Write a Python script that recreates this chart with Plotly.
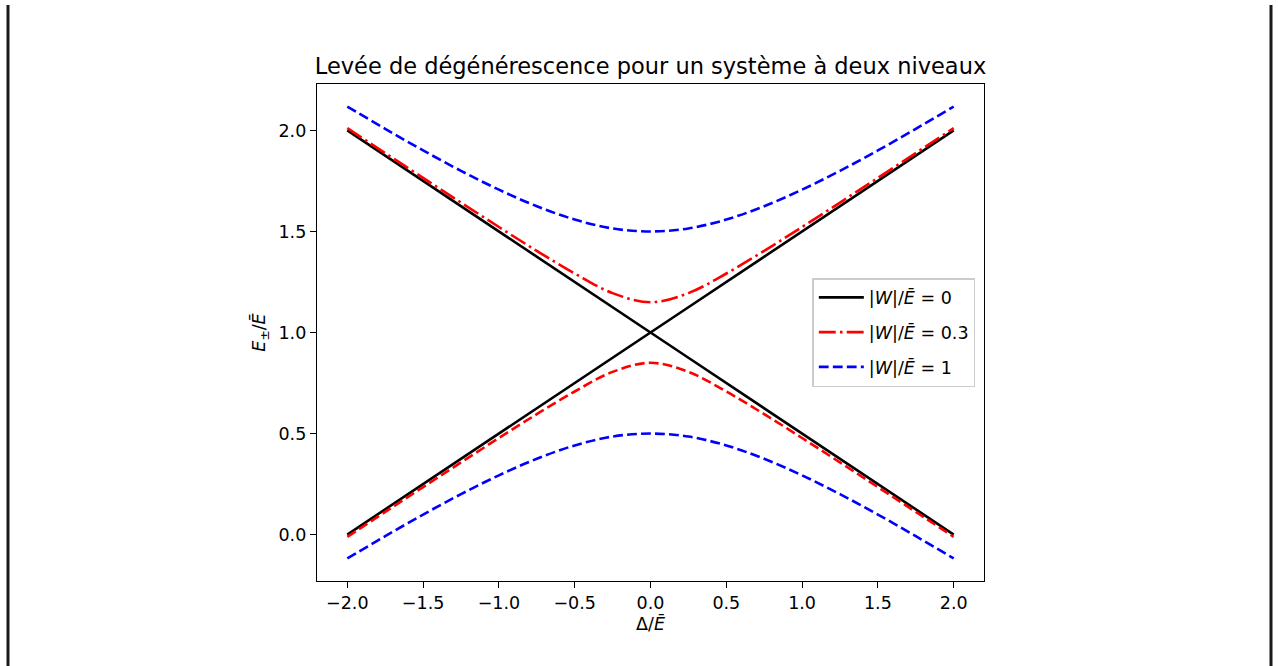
import plotly.graph_objects as go

delta = [-2.0, -1.75, -1.5, -1.25, -1.0, -0.75, -0.5, -0.25, 0.0,
         0.25, 0.5, 0.75, 1.0, 1.25, 1.5, 1.75, 2.0]

upper_w0 = [2.0, 1.875, 1.75, 1.625, 1.5, 1.375, 1.25, 1.125, 1.0,
            1.125, 1.25, 1.375, 1.5, 1.625, 1.75, 1.875, 2.0]
lower_w0 = [0.0, 0.125, 0.25, 0.375, 0.5, 0.625, 0.75, 0.875, 1.0,
            0.875, 0.75, 0.625, 0.5, 0.375, 0.25, 0.125, 0.0]

upper_w03 = [2.011, 1.888, 1.765, 1.643, 1.522, 1.404, 1.292, 1.195, 1.150,
             1.195, 1.292, 1.404, 1.522, 1.643, 1.765, 1.888, 2.011]
lower_w03 = [-0.011, 0.112, 0.235, 0.357, 0.478, 0.596, 0.708, 0.805, 0.850,
             0.805, 0.708, 0.596, 0.478, 0.357, 0.235, 0.112, -0.011]

upper_w1 = [2.118, 2.008, 1.901, 1.800, 1.707, 1.625, 1.559, 1.515, 1.500,
            1.515, 1.559, 1.625, 1.707, 1.800, 1.901, 2.008, 2.118]
lower_w1 = [-0.118, -0.008, 0.099, 0.200, 0.293, 0.375, 0.441, 0.485, 0.500,
            0.485, 0.441, 0.375, 0.293, 0.200, 0.099, -0.008, -0.118]

x_ticks = [-2.0, -1.5, -1.0, -0.5, 0.0, 0.5, 1.0, 1.5, 2.0]
y_ticks = [0.0, 0.5, 1.0, 1.5, 2.0]

LW = 2.6
DASH = "9.8px,4.2px"
DASHDOT = "16.9px,4.2px,2.6px,4.2px"

fig = go.Figure()
fig.add_trace(go.Scatter(x=delta, y=upper_w0, mode="lines",
                         line=dict(color="black", width=LW),
                         name="|<i>W</i>|/<i>Ē</i> = 0", legendgroup="a"))
fig.add_trace(go.Scatter(x=delta, y=lower_w0, mode="lines",
                         line=dict(color="black", width=LW),
                         showlegend=False, legendgroup="a"))
fig.add_trace(go.Scatter(x=delta, y=upper_w03, mode="lines",
                         line=dict(color="red", width=LW, dash=DASHDOT, shape="spline"),
                         name="|<i>W</i>|/<i>Ē</i> = 0.3", legendgroup="b"))
fig.add_trace(go.Scatter(x=delta, y=lower_w03, mode="lines",
                         line=dict(color="red", width=LW, dash=DASH, shape="spline"),
                         showlegend=False, legendgroup="b"))
fig.add_trace(go.Scatter(x=delta, y=upper_w1, mode="lines",
                         line=dict(color="blue", width=LW, dash=DASH, shape="spline"),
                         name="|<i>W</i>|/<i>Ē</i> = 1", legendgroup="c"))
fig.add_trace(go.Scatter(x=delta, y=lower_w1, mode="lines",
                         line=dict(color="blue", width=LW, dash=DASH, shape="spline"),
                         showlegend=False, legendgroup="c"))

font = "DejaVu Sans"
FS = 17.5
axis_common = dict(showgrid=False, zeroline=False, showline=True, linecolor="black",
                   linewidth=1.4, mirror=True, ticks="outside", ticklen=6,
                   tickwidth=1.4, tickcolor="black",
                   tickfont=dict(family=font, size=FS, color="black"))

fig.update_xaxes(range=[-2.2, 2.2], tickvals=x_ticks,
                 ticktext=[f"{v:.1f}".replace("-", "\u2212") for v in x_ticks],
                 title=dict(text="Δ/<i>Ē</i>", font=dict(family=font, size=FS, color="black"),
                            standoff=4),
                 **axis_common)
fig.update_yaxes(range=[-0.2298, 2.2298], tickvals=y_ticks,
                 ticktext=[f"{v:.1f}" for v in y_ticks],
                 title=dict(text="<i>E</i><sub>±</sub>/<i>Ē</i>",
                            font=dict(family=font, size=FS, color="black"), standoff=8),
                 **axis_common)

fig.update_layout(
    width=1278, height=666,
    margin=dict(l=317, r=294, t=84, b=85),
    paper_bgcolor="white", plot_bgcolor="white",
    font=dict(family=font, size=FS, color="black"),
    title=dict(text="Levée de dégénérescence pour un système à deux niveaux",
               font=dict(family=font, size=22.5, color="black"),
               x=0.5, xref="paper", xanchor="center",
               y=1 - 66 / 666, yref="container", yanchor="middle"),
    legend=dict(x=0.987, y=0.5, xanchor="right", yanchor="middle",
                bgcolor="rgba(255,255,255,0.8)", bordercolor="#cccccc", borderwidth=1.5,
                font=dict(family=font, size=FS, color="black"),
                tracegroupgap=9, itemwidth=45),
    shapes=[
        dict(type="line", xref="paper", yref="paper",
             x0=(8 - 317) / 667, x1=(8 - 317) / 667,
             y0=(581.5 - 5) / 497.5, y1=(581.5 - 670) / 497.5,
             line=dict(color="#1a1a1a", width=3)),
        dict(type="line", xref="paper", yref="paper",
             x0=(1271 - 317) / 667, x1=(1271 - 317) / 667,
             y0=(581.5 - 5) / 497.5, y1=(581.5 - 670) / 497.5,
             line=dict(color="#1a1a1a", width=3)),
    ],
)

fig.write_html("out.html")
